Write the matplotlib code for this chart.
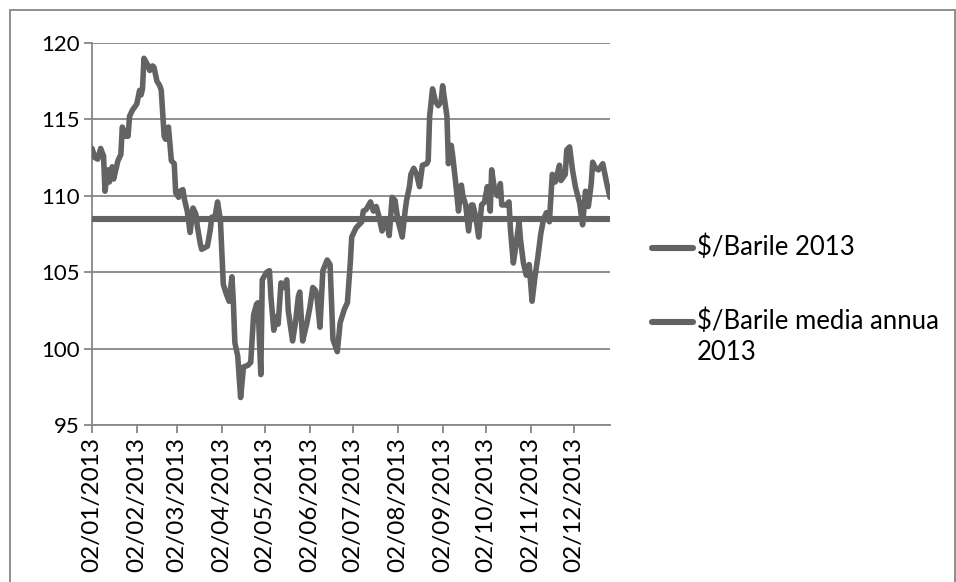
import matplotlib
matplotlib.use("Agg")
import matplotlib.pyplot as plt
import matplotlib.dates as mdates
import pandas as pd
from matplotlib.lines import Line2D
from matplotlib.patches import Rectangle

plt.rcParams['font.family'] = ['Lato', 'DejaVu Sans']

# quotazioni Brent 2013, $/barile
dates = [
    "2013-01-02", "2013-01-04", "2013-01-06", "2013-01-08", "2013-01-10", "2013-01-11",
    "2013-01-13", "2013-01-14", "2013-01-16", "2013-01-17", "2013-01-20", "2013-01-22",
    "2013-01-23", "2013-01-25", "2013-01-27", "2013-01-28", "2013-01-30",
    "2013-02-02", "2013-02-04", "2013-02-05", "2013-02-06", "2013-02-07", "2013-02-10",
    "2013-02-11", "2013-02-13", "2013-02-14", "2013-02-16", "2013-02-18", "2013-02-19",
    "2013-02-21", "2013-02-22", "2013-02-24", "2013-02-26", "2013-02-28",
    "2013-03-01", "2013-03-03", "2013-03-04", "2013-03-06", "2013-03-07", "2013-03-09",
    "2013-03-11", "2013-03-13", "2013-03-15", "2013-03-16", "2013-03-18", "2013-03-19",
    "2013-03-21", "2013-03-23", "2013-03-25", "2013-03-26", "2013-03-28", "2013-03-30",
    "2013-04-01", "2013-04-03", "2013-04-05", "2013-04-07", "2013-04-09", "2013-04-10",
    "2013-04-11", "2013-04-13", "2013-04-15", "2013-04-17", "2013-04-20", "2013-04-22",
    "2013-04-24", "2013-04-26", "2013-04-27", "2013-04-29", "2013-04-30",
    "2013-05-03", "2013-05-05", "2013-05-06", "2013-05-08", "2013-05-10", "2013-05-11",
    "2013-05-13", "2013-05-15", "2013-05-17", "2013-05-18", "2013-05-21", "2013-05-23",
    "2013-05-25", "2013-05-26", "2013-05-28", "2013-05-31",
    "2013-06-02", "2013-06-04", "2013-06-06", "2013-06-07", "2013-06-09", "2013-06-11",
    "2013-06-14", "2013-06-16", "2013-06-18", "2013-06-21", "2013-06-23", "2013-06-26",
    "2013-06-28", "2013-06-30",
    "2013-07-01", "2013-07-04", "2013-07-08", "2013-07-09", "2013-07-11", "2013-07-14",
    "2013-07-16", "2013-07-18", "2013-07-20", "2013-07-22", "2013-07-25", "2013-07-27",
    "2013-07-29", "2013-07-31",
    "2013-08-02", "2013-08-05", "2013-08-07", "2013-08-08", "2013-08-10", "2013-08-11",
    "2013-08-13", "2013-08-15", "2013-08-17", "2013-08-19", "2013-08-22", "2013-08-23",
    "2013-08-24", "2013-08-26", "2013-08-28", "2013-08-30",
    "2013-09-01", "2013-09-02", "2013-09-05", "2013-09-06", "2013-09-08", "2013-09-09",
    "2013-09-11", "2013-09-13", "2013-09-15", "2013-09-16", "2013-09-18", "2013-09-20",
    "2013-09-22", "2013-09-23", "2013-09-25", "2013-09-27", "2013-09-29",
    "2013-10-01", "2013-10-03", "2013-10-05", "2013-10-06", "2013-10-08", "2013-10-10",
    "2013-10-12", "2013-10-13", "2013-10-16", "2013-10-18", "2013-10-19", "2013-10-21",
    "2013-10-23", "2013-10-25", "2013-10-26", "2013-10-28", "2013-10-30",
    "2013-11-01", "2013-11-03", "2013-11-05", "2013-11-07", "2013-11-09", "2013-11-11",
    "2013-11-13", "2013-11-15", "2013-11-17", "2013-11-19", "2013-11-22", "2013-11-23",
    "2013-11-26", "2013-11-27", "2013-11-29",
    "2013-12-01", "2013-12-03", "2013-12-06", "2013-12-08", "2013-12-10", "2013-12-12",
    "2013-12-14", "2013-12-15", "2013-12-17", "2013-12-19", "2013-12-22", "2013-12-25",
    "2013-12-27",
]
prices = [
    113.1, 112.5, 112.4, 113.1, 112.6, 110.3,
    111.7, 110.9, 111.9, 111.1, 112.3, 112.7,
    114.5, 113.9, 113.9, 115.2, 115.6,
    116.0, 116.9, 116.6, 117.0, 119.0, 118.5,
    118.2, 118.5, 118.4, 117.5, 117.2, 116.9,
    113.9, 113.7, 114.5, 112.3, 112.1,
    110.2, 109.9, 110.3, 110.4, 109.8, 109.0,
    107.6, 109.2, 108.8, 108.0, 106.9, 106.5,
    106.6, 106.7, 107.8, 108.6, 108.5, 109.6,
    108.4, 104.2, 103.6, 103.1, 104.7, 103.0,
    100.4, 99.5, 96.8, 98.8, 98.9, 99.1,
    102.2, 102.9, 103.0, 98.3, 104.5,
    105.0, 105.1, 103.4, 101.2, 102.1, 101.6,
    104.3, 104.0, 104.5, 102.5, 100.5, 101.7,
    103.4, 103.7, 100.5, 101.7,
    102.7, 104.0, 103.8, 103.3, 101.4, 105.1,
    105.8, 105.5, 100.6, 99.8, 101.7, 102.6,
    103.0, 105.6,
    107.3, 107.9, 108.3, 109.0, 109.1, 109.6,
    109.0, 109.3, 108.6, 107.7, 108.4, 107.4,
    109.9, 109.7,
    108.4, 107.3, 109.0, 109.7, 110.6, 111.4,
    111.8, 111.4, 110.6, 112.0, 112.1, 112.3,
    115.2, 117.0, 116.2, 115.9,
    116.2, 117.2, 115.2, 112.1, 113.3, 112.6,
    110.9, 109.0, 110.7, 110.0, 109.4, 107.7,
    109.4, 109.4, 108.6, 107.3, 109.4,
    109.6, 110.6, 109.0, 111.7, 110.4, 110.0,
    110.8, 109.4, 109.4, 109.6, 107.8, 105.6,
    106.9, 108.3, 107.1, 105.6, 104.8,
    105.5, 103.1, 104.7, 106.0, 107.5, 108.5,
    108.9, 108.3, 111.4, 110.9, 112.0, 111.0,
    111.4, 113.0, 113.2,
    111.7, 110.6, 109.5, 108.1, 110.3, 109.3,
    110.8, 112.2, 111.8, 111.7, 112.1, 110.7,
    109.9,
]
media_annua = 108.5

tick_dates = ["2013-01-02", "2013-02-02", "2013-03-02", "2013-04-02", "2013-05-02",
              "2013-06-02", "2013-07-02", "2013-08-02", "2013-09-02", "2013-10-02",
              "2013-11-02", "2013-12-02"]
y_ticks = [95, 100, 105, 110, 115, 120]
series_labels = ["\\$/Barile 2013", "\\$/Barile media annua\n2013"]

W, H = 956, 582
line_color = "#636363"
axis_color = "#878787"

days = pd.to_datetime(dates)

fig = plt.figure(figsize=(W / 100, H / 100), dpi=100)
ax = fig.add_axes([92 / W, 1 - 425 / H, (610 - 92) / W, (425 - 43) / H])

ax.plot(days, prices, color=line_color, lw=4.0,
        solid_joinstyle="round", solid_capstyle="round", zorder=3)
ax.plot(days, [media_annua] * len(days), color=line_color, lw=4.4, zorder=3)

ax.set_xlim(days[0], days[-1])
ax.set_ylim(95, 120)
ax.set_yticks(y_ticks)
ax.set_xticks(pd.to_datetime(tick_dates))
ax.xaxis.set_major_formatter(mdates.DateFormatter("%d/%m/%Y"))

ax.yaxis.grid(True, color=axis_color, lw=1.3)
ax.set_axisbelow(True)
for side in ("top", "right"):
    ax.spines[side].set_visible(False)
for side in ("left", "bottom"):
    ax.spines[side].set_color(axis_color)
    ax.spines[side].set_linewidth(1.3)

ax.tick_params(axis="x", rotation=90, length=6, width=1.3, color=axis_color,
               labelsize=17.5, pad=3)
ax.tick_params(axis="y", length=6, width=1.3, color=axis_color,
               labelsize=16, pad=3)

# legenda a destra del grafico
legend_rows = [248, 322]
for label, row in zip(series_labels, legend_rows):
    fig.add_artist(Line2D([652 / W, 693 / W], [1 - row / H] * 2, color=line_color,
                          lw=4.4, solid_capstyle="round", transform=fig.transFigure))
    fig.text(697 / W, 1 - (row - 14) / H, label, fontsize=18.5, va="top",
             linespacing=1.33)

# cornice esterna
fig.add_artist(Rectangle((10 / W, -0.02), (955 - 10) / W, 1 - 10 / H + 0.02,
                         transform=fig.transFigure, fill=False,
                         edgecolor=axis_color, lw=1.3))

fig.savefig("out.png", dpi=100)
